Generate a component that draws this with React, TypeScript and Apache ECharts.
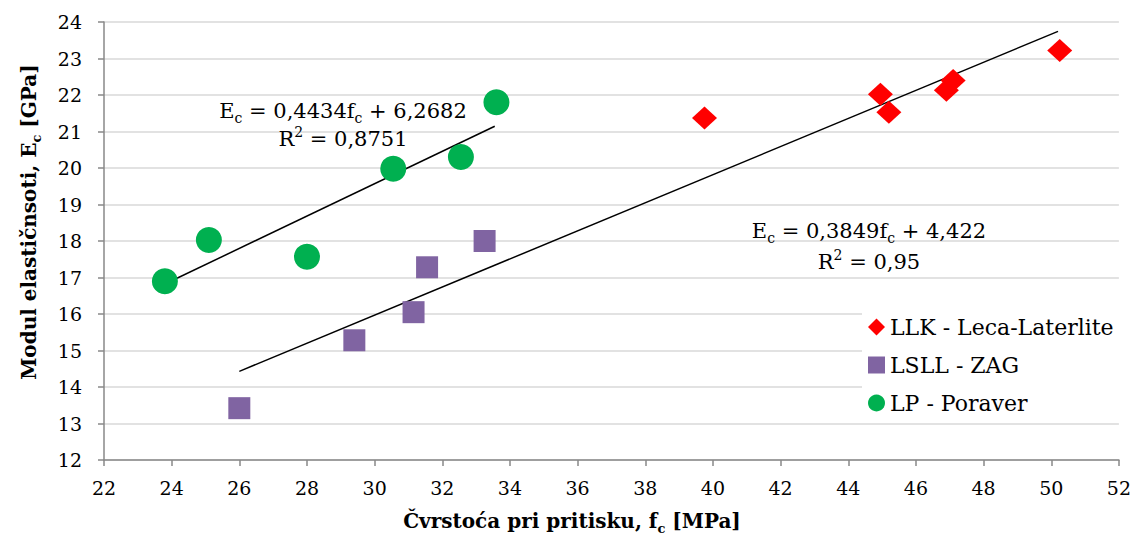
import React, { useEffect, useRef } from "react";
import * as echarts from "echarts";

// Data
const llkX = [39.75, 44.95, 45.2, 46.9, 47.1, 50.25];
const llkY = [21.37, 22.02, 21.53, 22.13, 22.4, 23.22];
const lsllX = [26.0, 29.4, 31.15, 31.55, 33.25];
const lsllY = [13.42, 15.28, 16.05, 17.28, 18.0];
const lpX = [23.8, 25.1, 28.0, 30.55, 32.55, 33.6];
const lpY = [16.9, 18.03, 17.57, 19.98, 20.3, 21.8];

const seriesNames = ["LLK - Leca-Laterlite", "LSLL - ZAG", "LP - Poraver"];

// Trendlines (Excel-style): slope, intercept, R², x-range
const trend1Coef = [0.4434, 6.2682];
const trend1Range = [23.8, 33.55];
const trend1Text = ["0,4434", "6,2682", "0,8751"];
const trend2Coef = [0.3849, 4.422];
const trend2Range = [26.0, 50.2];
const trend2Text = ["0,3849", "4,422", "0,95"];

const FONT = "DejaVu Serif";

const pair = (xs: number[], ys: number[]) => xs.map((x, i) => [x, ys[i]]);
const trend = (coef: number[], range: number[]) =>
  range.map((x) => [x, coef[0] * x + coef[1]]);

const eqRich = {
  m: { fontFamily: FONT, fontSize: 21, lineHeight: 28, color: "#000" },
  s: { fontFamily: FONT, fontSize: 14, lineHeight: 12, verticalAlign: "bottom", color: "#000" },
  p: { fontFamily: FONT, fontSize: 14, lineHeight: 20, verticalAlign: "top", color: "#000" },
};
const titleRich = {
  b: { fontFamily: FONT, fontWeight: "bold", fontSize: 20, lineHeight: 28, color: "#000" },
  bs: { fontFamily: FONT, fontWeight: "bold", fontSize: 13, lineHeight: 12, verticalAlign: "bottom", color: "#000" },
};

export default function App() {
  const ref = useRef<HTMLDivElement>(null);
  useEffect(() => {
    if (!ref.current) return;
    const chart = echarts.init(ref.current, null, { renderer: "svg" });
    const eqText = (t: string[]) => `{m|E}{s|c}{m| = ${t[0]}f}{s|c}{m| + ${t[1]}}`;
    const r2Text = (t: string[]) => `{m|R}{p|2}{m| = ${t[2]}}`;
    chart.setOption({
      animation: false,
      backgroundColor: "#fff",
      grid: { left: 104, right: 12, top: 22, bottom: 76 },
      xAxis: {
        type: "value",
        min: 22,
        max: 52,
        interval: 2,
        axisLine: { show: true, lineStyle: { color: "#898989", width: 1.5 } },
        axisTick: { show: true, length: 6, lineStyle: { color: "#898989", width: 1.5 } },
        axisLabel: { fontFamily: FONT, fontSize: 19, color: "#000", margin: 18 },
        splitLine: { show: false },
      },
      yAxis: {
        type: "value",
        min: 12,
        max: 24,
        interval: 1,
        axisLine: { show: true, lineStyle: { color: "#898989", width: 1.5 } },
        axisTick: { show: true, length: 6, lineStyle: { color: "#898989", width: 1.5 } },
        axisLabel: { fontFamily: FONT, fontSize: 19, color: "#000", margin: 22 },
        splitLine: { show: true, lineStyle: { color: "#d9d9d9", width: 1.5 } },
      },
      legend: {
        data: seriesNames,
        orient: "vertical",
        left: 863,
        top: 311,
        itemWidth: 17,
        itemHeight: 17,
        itemGap: 16,
        textStyle: { fontFamily: FONT, fontSize: 22, lineHeight: 22, color: "#000" },
      },
      graphic: [
        {
          type: "rect",
          shape: { x: 862, y: 298, width: 262, height: 117 },
          style: { fill: "#fff" },
          z: 3,
          silent: true,
        },
        {
          type: "text",
          x: 343,
          y: 111,
          z: 10,
          style: { text: eqText(trend1Text), rich: eqRich, align: "center", verticalAlign: "middle" },
        },
        {
          type: "text",
          x: 343,
          y: 139,
          z: 10,
          style: { text: r2Text(trend1Text), rich: eqRich, align: "center", verticalAlign: "middle" },
        },
        {
          type: "text",
          x: 869,
          y: 231,
          z: 10,
          style: { text: eqText(trend2Text), rich: eqRich, align: "center", verticalAlign: "middle" },
        },
        {
          type: "text",
          x: 869,
          y: 262,
          z: 10,
          style: { text: r2Text(trend2Text), rich: eqRich, align: "center", verticalAlign: "middle" },
        },
        {
          type: "text",
          x: 572,
          y: 521,
          z: 10,
          style: {
            text: "{b|Čvrstoća pri pritisku, f}{bs|c}{b| [MPa]}",
            rich: titleRich,
            align: "center",
            verticalAlign: "middle",
          },
        },
        {
          type: "text",
          x: 29,
          y: 222,
          rotation: Math.PI / 2,
          z: 10,
          style: {
            text: "{b|Modul elastičnsoti, E}{bs|c}{b| [GPa]}",
            rich: titleRich,
            align: "center",
            verticalAlign: "middle",
          },
        },
      ],
      series: [
        {
          name: seriesNames[0],
          type: "scatter",
          symbol: "diamond",
          symbolSize: [25, 23],
          itemStyle: { color: "#ff0000", opacity: 1 },
          data: pair(llkX, llkY),
          z: 5,
        },
        {
          name: seriesNames[1],
          type: "scatter",
          symbol: "rect",
          symbolSize: 22,
          itemStyle: { color: "#8064a2", opacity: 1 },
          data: pair(lsllX, lsllY),
          z: 5,
        },
        {
          name: seriesNames[2],
          type: "scatter",
          symbol: "circle",
          symbolSize: 26,
          itemStyle: { color: "#00b050", opacity: 1 },
          data: pair(lpX, lpY),
          z: 5,
        },
        {
          name: "trend LP",
          type: "line",
          data: trend(trend1Coef, trend1Range),
          showSymbol: false,
          symbol: "none",
          lineStyle: { color: "#000", width: 1.5 },
          z: 4,
        },
        {
          name: "trend LSLL+LLK",
          type: "line",
          data: trend(trend2Coef, trend2Range),
          showSymbol: false,
          symbol: "none",
          lineStyle: { color: "#000", width: 1.5 },
          z: 4,
        },
      ],
    });
    return () => chart.dispose();
  }, []);
  return (
    <div
      ref={ref}
      style={{ position: "fixed", left: 0, top: 0, width: 1134, height: 536 }}
    />
  );
}
